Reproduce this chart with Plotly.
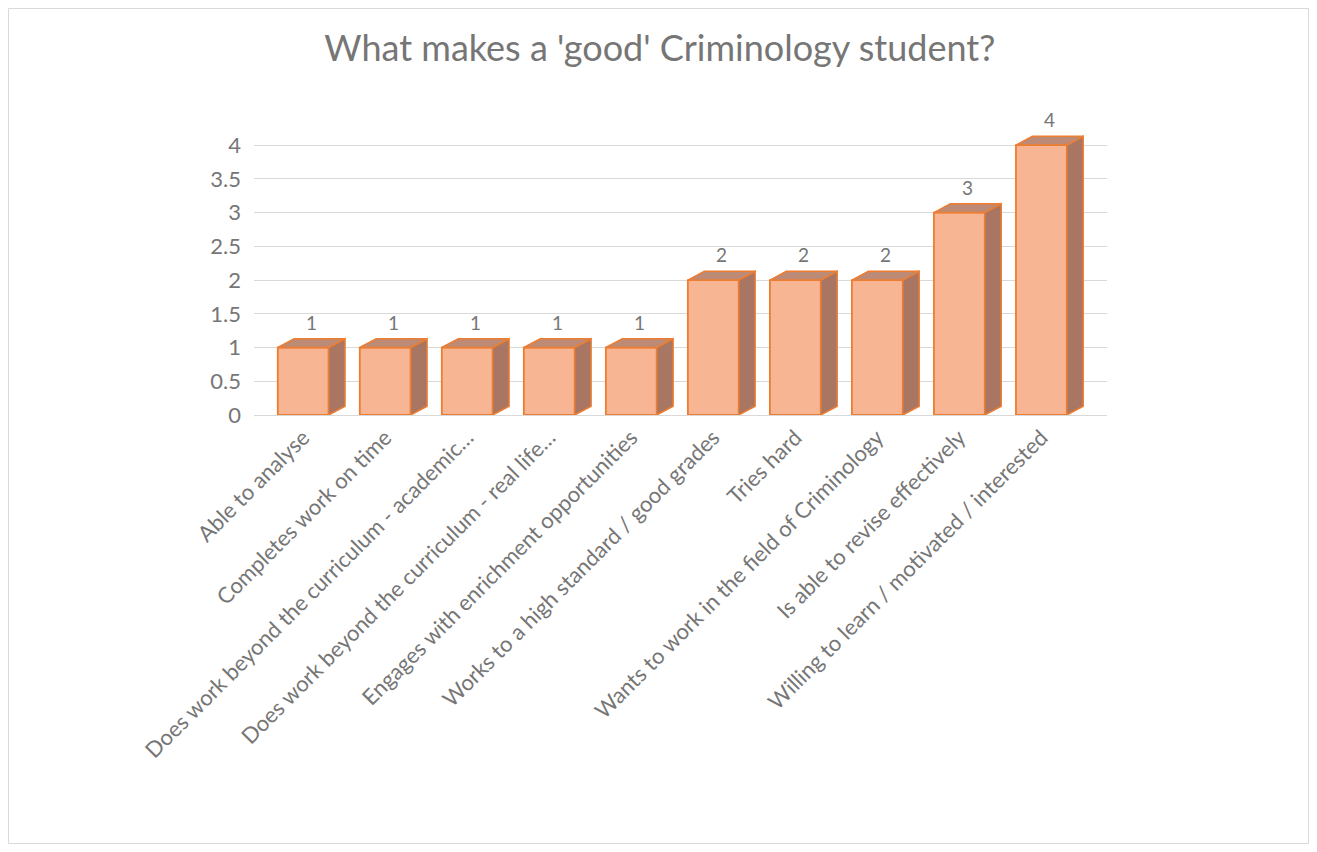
import plotly.graph_objects as go

categories = [
    "Able to analyse",
    "Completes work on time",
    "Does work beyond the curriculum - academic…",
    "Does work beyond the curriculum - real life…",
    "Engages with enrichment opportunities",
    "Works to a high standard / good grades",
    "Tries hard",
    "Wants to work in the field of Criminology",
    "Is able to revise effectively",
    "Willing to learn / motivated / interested",
]
values = [1, 1, 1, 1, 1, 2, 2, 2, 3, 4]
y_ticks = [0, 0.5, 1, 1.5, 2, 2.5, 3, 3.5, 4]
y_tick_text = ["0", "0.5", "1", "1.5", "2", "2.5", "3", "3.5", "4"]

FONT = "Lato, 'Open Sans', sans-serif"
TXT = "#767676"
FRONT = "#F8B594"
SIDE = "#A87662"
TOP = "#BD8B75"
EDGE = "#ED7D31"
BAR_W = 0.62
DX = 0.2
DY = 0.13

W, H = 1301, 836
ML, MR, MT, MB = 246, 202, 127, 429
PW, PH = W - ML - MR, H - MT - MB

idx = list(range(len(categories)))

fig = go.Figure()
fig.add_trace(go.Bar(
    x=idx, y=values, width=BAR_W,
    marker=dict(color=FRONT, line=dict(color=EDGE, width=1.8)),
    hoverinfo="y", showlegend=False,
))

shapes = []
annotations = []
for i, v in zip(idx, values):
    xl = i - BAR_W / 2
    xr = i + BAR_W / 2
    side = f"M {xr},0 L {xr+DX},{DY} L {xr+DX},{v+DY} L {xr},{v} Z"
    top = f"M {xl},{v} L {xr},{v} L {xr+DX},{v+DY} L {xl+DX},{v+DY} Z"
    shapes.append(dict(type="path", path=side, xref="x", yref="y",
                       fillcolor=SIDE, line=dict(color=EDGE, width=1.5), layer="above"))
    shapes.append(dict(type="path", path=top, xref="x", yref="y",
                       fillcolor=TOP, line=dict(color=EDGE, width=1.5), layer="above"))
    annotations.append(dict(x=i + DX / 2, y=v + DY, xref="x", yref="y",
                            text=str(v), showarrow=False, yanchor="bottom", yshift=3,
                            font=dict(family=FONT, size=19, color=TXT)))

# light chart-area border around the whole figure
shapes.append(dict(type="rect", xref="paper", yref="paper",
                   x0=(0.5 - ML) / PW, x1=(W - 0.5 - ML) / PW,
                   y0=(H - MB - (H - 0.5)) / PH, y1=(H - MB - 0.5) / PH,
                   line=dict(color="#D9D9D9", width=1), fillcolor="rgba(0,0,0,0)",
                   layer="below"))

fig.update_layout(
    width=W, height=H, autosize=False,
    title=dict(text="What makes a 'good' Criminology student?", x=0.501, xanchor="center",
               y=1 - 40 / H, yanchor="middle",
               font=dict(family=FONT, size=36, color=TXT)),
    paper_bgcolor="white",
    plot_bgcolor="white",
    margin=dict(l=ML, r=MR, t=MT, b=MB),
    shapes=shapes,
    annotations=annotations,
    xaxis=dict(
        range=[-0.6, 9.6 + DX],
        tickvals=idx, ticktext=categories, tickangle=-45,
        tickfont=dict(family=FONT, size=22, color=TXT),
        showgrid=False, zeroline=False,
        showline=True, linecolor="#D9D9D9", linewidth=1,
        ticks="",
    ),
    yaxis=dict(
        range=[0, 4.15],
        tickvals=y_ticks, ticktext=y_tick_text,
        tickfont=dict(family=FONT, size=22, color=TXT),
        showgrid=True, gridcolor="#D9D9D9", gridwidth=1,
        zeroline=False, ticks="", ticklabelstandoff=12,
    ),
    bargap=0.4,
)

fig.write_html("out.html")
